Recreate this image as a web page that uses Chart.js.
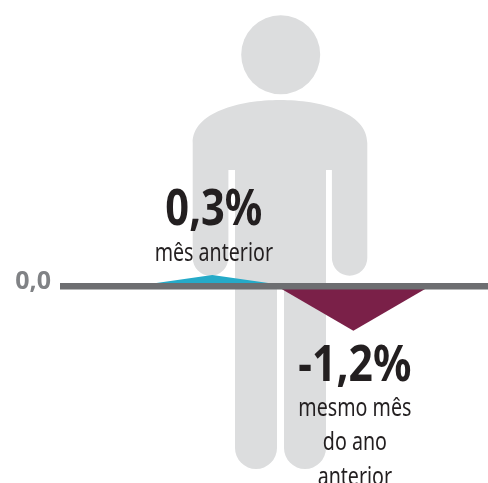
<!DOCTYPE html>
<html lang="pt">
<head>
<meta charset="utf-8">
<title>Variação</title>
<script src="https://cdn.jsdelivr.net/npm/chart.js@4"></script>
<style>
  html, body { margin: 0; padding: 0; background: #fff; }
  canvas { display: block; }
</style>
</head>
<body>
<canvas id="chart" width="488" height="483"></canvas>
<script>
// values, x is in slots along the axis
const mesAnteriorX = [-6, 0, 6]
const mesAnteriorY = [0, 0.3, 0]
const mesmoMesX = [5, 11, 17]
const mesmoMesY = [0, -1.2, 0]
const mesAnteriorValue = '0,3%'
const mesAnteriorLabel = ['mês anterior']
const mesmoMesValue = '-1,2%'
const mesmoMesLabel = ['mesmo mês', 'do ano', 'anterior']
const yTicks = [0]

const fontFamily = '"Noto Sans", sans-serif'

const toPoints = (xs, ys) => xs.map((x, i) => ({ x: x, y: ys[i] }))

// grey figure behind the chart
const personPlugin = {
  id: 'person',
  beforeDatasetsDraw (chart) {
    const ctx = chart.ctx
    ctx.save()
    ctx.fillStyle = '#dcddde'
    ctx.beginPath()
    ctx.arc(280.7, 54.7, 39.5, 0, Math.PI * 2)
    ctx.fill()
    ctx.beginPath()
    ctx.moveTo(192.7, 143)
    ctx.bezierCurveTo(192.7, 112, 240, 100, 280, 100)
    ctx.bezierCurveTo(320, 100, 367.3, 112, 367.3, 143)
    ctx.lineTo(367.3, 258)
    ctx.arc(349.6, 258, 17.7, 0, Math.PI)
    ctx.lineTo(331.9, 170)
    ctx.lineTo(326, 170)
    ctx.lineTo(326, 448)
    ctx.arc(305, 448, 21, 0, Math.PI)
    ctx.lineTo(284, 286)
    ctx.lineTo(277, 286)
    ctx.lineTo(277, 448)
    ctx.arc(256, 448, 21, 0, Math.PI)
    ctx.lineTo(235, 170)
    ctx.lineTo(228.4, 170)
    ctx.lineTo(228.4, 258)
    ctx.arc(210.5, 258, 17.8, 0, Math.PI)
    ctx.closePath()
    ctx.fill()
    ctx.restore()
  }
}

// value and caption next to each peak
const labelsPlugin = {
  id: 'peakLabels',
  afterDraw (chart) {
    const ctx = chart.ctx
    const x = chart.scales.x
    ctx.save()
    ctx.fillStyle = '#231f20'
    ctx.textAlign = 'center'
    ctx.textBaseline = 'alphabetic'

    // Noto is wider than the original face, so the text gets squeezed to the measured widths
    ctx.font = 'bold 50px ' + fontFamily
    const cx1 = x.getPixelForValue(mesAnteriorX[1]) + 1.5
    const cx2 = x.getPixelForValue(mesmoMesX[1]) + 1.5
    ctx.fillText(mesAnteriorValue, cx1, 225, 97)
    ctx.fillText(mesmoMesValue, cx2, 380.5, 113)

    ctx.font = '26px ' + fontFamily
    const textK = 113 / ctx.measureText(mesmoMesLabel[0]).width
    ctx.fillText(mesAnteriorLabel[0], cx1, 260.5, ctx.measureText(mesAnteriorLabel[0]).width * textK)
    mesmoMesLabel.forEach((line, i) => {
      ctx.fillText(line, cx2, 415.5 + i * 34.5, ctx.measureText(line).width * textK)
    })
    ctx.restore()
  }
}

new Chart(document.getElementById('chart'), {
  type: 'line',
  data: {
    datasets: [
      {
        label: 'mês anterior',
        data: toPoints(mesAnteriorX, mesAnteriorY),
        backgroundColor: '#25aac8',
        fill: 'origin'
      },
      {
        label: 'mesmo mês do ano anterior',
        data: toPoints(mesmoMesX, mesmoMesY),
        backgroundColor: '#7a2048',
        fill: 'origin'
      }
    ]
  },
  options: {
    responsive: false,
    animation: false,
    layout: { padding: 0 },
    elements: {
      line: { tension: 0, borderWidth: 0 },
      point: { radius: 0 }
    },
    plugins: {
      legend: { display: false },
      tooltip: { enabled: false }
    },
    scales: {
      x: {
        type: 'linear',
        display: false,
        min: -11.88,
        max: 21.5
      },
      y: {
        min: -5.28,
        max: 7.67,
        border: { display: false },
        grid: { color: '#6d6e71', lineWidth: 6.5, drawTicks: false, z: 1 },
        afterBuildTicks: scale => {
          scale.ticks = yTicks.map(v => ({ value: v }))
        },
        afterFit: scale => {
          scale.width = 60
          // the single tick label must not pull the plot area in
          scale.paddingTop = 0
          scale.paddingBottom = 0
        },
        ticks: {
          padding: 9,
          labelOffset: -4,
          color: '#808285',
          font: { family: fontFamily, size: 25, weight: 'bold' },
          callback: v => v.toFixed(1).replace('.', ',')
        }
      }
    }
  },
  plugins: [personPlugin, labelsPlugin]
})
</script>
</body>
</html>
